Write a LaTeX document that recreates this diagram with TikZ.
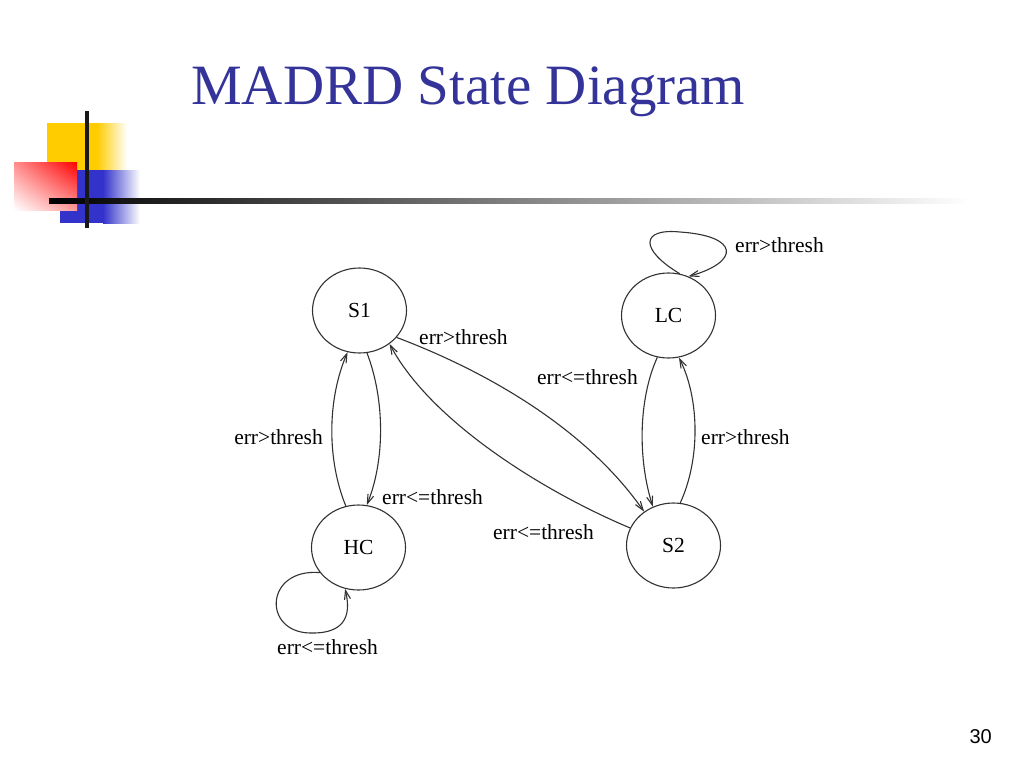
\documentclass[tikz,border=0pt]{standalone}
\usepackage{fontspec}
\setmainfont{Liberation Serif}
\newfontfamily\numfont{Liberation Sans}
\usetikzlibrary{shapes.geometric,arrows.meta,shadings}
\definecolor{titleblue}{RGB}{51,51,153}
\definecolor{pixyellow}{RGB}{255,204,0}
\definecolor{pixblue}{RGB}{51,51,204}
\definecolor{pixred}{RGB}{255,0,0}
\definecolor{wire}{RGB}{50,50,50}

\begin{document}
\begin{tikzpicture}
  [x=1pt, y=1pt,
    >={Straight Barb[length=9pt,width=6pt]},
    every node/.style={inner sep=0pt},
    state/.style={ellipse, draw=wire, line width=1.1pt, minimum width=94pt, minimum height=85pt, font=\fontsize{21.5}{24}\selectfont},
    trans/.style={->, draw=wire, line width=1.1pt},
    edgelabel/.style={font=\fontsize{21.5}{24}\selectfont},
]

\useasboundingbox (0,0) rectangle (1024,-768);
\fill[white] (0,0) rectangle (1024,-768);

% template logo
\fill[pixyellow] (47,-123) rectangle (97,-170);
\shade[left color=pixyellow, right color=white] (97,-123) rectangle (127,-170);
\fill[pixblue] (60,-170) rectangle (103,-223);
\shade[left color=pixblue, right color=white] (103,-170) rectangle (140,-223);
\shade[upper left=pixred!45, upper right=pixred, lower left=white, lower right=pixred!40] (14,-162) rectangle (77,-210);
\shade[left color=black, right color=white] (49,-198.5) rectangle (970,-203.5);
\fill[black!90] (85,-111) rectangle (89,-228);

\node[anchor=base west, text=titleblue, font=\fontsize{57}{60}\selectfont] (title) at (191,-104) {MADRD State Diagram};
\node[anchor=base east, font=\numfont\fontsize{20}{22}\selectfont] (page) at (992,-743) {30};

% states
\node[state] (S1) at (359.5,-310.5) {S1};
\node[state] (HC) at (358.5,-547.5) {HC};
\node[state] (LC) at (668.5,-315.5) {LC};
\node[state] (S2) at (673.5,-545.5) {S2};

% transitions
\draw[trans] (S1.-80) .. controls (385,-400) and (385,-460) .. (HC.79);
\draw[trans] (HC.107) .. controls (327,-460) and (327,-400) .. (S1.-106);
\draw[trans] (S1.-36) .. controls (470,-365) and (580,-420) .. (S2.131);
\draw[trans] (S2.158) .. controls (540,-490) and (430,-420) .. (S1.-48);
\draw[trans] (LC.-105) .. controls (638,-400) and (638,-460) .. (S2.118);
\draw[trans] (S2.81) .. controls (700,-460) and (700,-400) .. (LC.-76);
\draw[trans] (LC.75) .. controls (640,-250) and (640,-228) .. (680,-232)
  .. controls (740,-236) and (740,-262) .. (LC.63);
\draw[trans] (HC.-147) .. controls (265,-568) and (262,-632) .. (310,-633)
  .. controls (350,-634) and (350,-610) .. (HC.-108);

% labels
\node[edgelabel, anchor=west] (lS1HC) at (382,-497) {err<=thresh};
\node[edgelabel, anchor=east] (lHCS1) at (323,-437) {err>thresh};
\node[edgelabel, anchor=west] (lS1S2) at (419,-337) {err>thresh};
\node[edgelabel, anchor=east] (lS2S1) at (594,-532) {err<=thresh};
\node[edgelabel, anchor=east] (lLCS2) at (638,-377) {err<=thresh};
\node[edgelabel, anchor=west] (lS2LC) at (701,-437) {err>thresh};
\node[edgelabel, anchor=west] (lLCLC) at (735,-245) {err>thresh};
\node[edgelabel, anchor=west] (lHCHC) at (277,-647) {err<=thresh};
\end{tikzpicture}
\end{document}
